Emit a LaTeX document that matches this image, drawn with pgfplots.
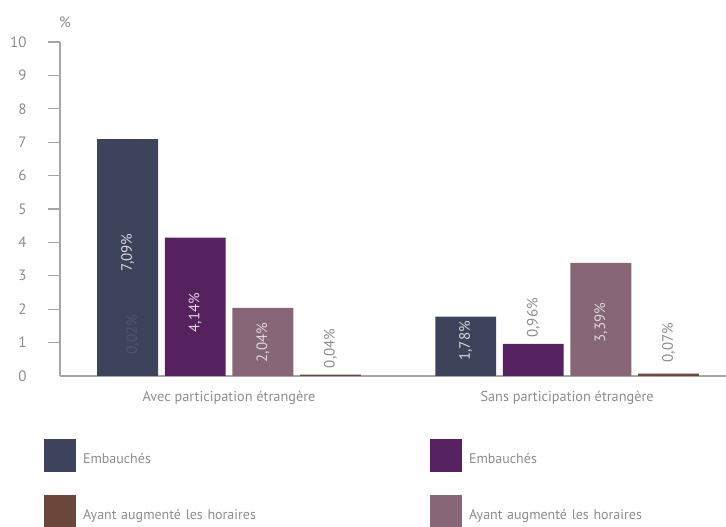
\documentclass[border=0pt]{standalone}
\usepackage{pgfplots}
\pgfplotsset{compat=1.18}
\usepackage{fontspec}
\setmainfont{PT Sans}

\definecolor{navy}{HTML}{3C435A}
\definecolor{plum}{HTML}{55225F}
\definecolor{mauve}{HTML}{866677}
\definecolor{brownish}{HTML}{6B463B}
\definecolor{txtgray}{HTML}{8C8C8C}
\definecolor{axgray}{HTML}{A6A6A6}
\definecolor{lbllight}{HTML}{DADADA}
\definecolor{lbldark}{HTML}{50556A}

\begin{document}
\begin{tikzpicture}
\useasboundingbox (0,0) rectangle (726pt,527pt);
\clip (0,0) rectangle (726pt,527pt);
\begin{axis}[
  at={(60pt,151pt)}, anchor=south west,
  width=666pt, height=334pt, scale only axis, clip=false,
  xmin=-0.5, xmax=1.47, ymin=0, ymax=10,
  axis x line=bottom, axis y line=left,
  axis line style={axgray, line width=1.3pt, -},
  ytick={1,...,10}, extra y ticks={0},
  extra y tick style={major tick style={draw=none}},
  tick align=outside, major tick length=12pt,
  ytick style={axgray, line width=1.3pt},
  xtick={0,1},
  xticklabels={Avec participation étrangère, Sans participation étrangère},
  xtick style={draw=none},
  ticklabel style={txtgray, font=\fontsize{14.3}{16}\selectfont},
  yticklabel style={xshift=-18pt, font=\fontsize{15}{16}\selectfont},
  /pgf/number format/assume math mode=true,
  legend columns=2,
  legend cell align=left,
  legend image code/.code={\fill[#1] (0pt,-13pt) rectangle (32pt,20pt);},
  legend style={at={(axis description cs:-0.024,-0.1886)}, anchor=north west,
    draw=none, fill=none, inner sep=0pt, outer sep=0pt,
    column sep=0pt, row sep=23pt, text=txtgray,
    font=\fontsize{14}{16}\selectfont,
    nodes={inner xsep=7pt, inner ysep=0pt, text width=340pt}},
]
% bars: navy, plum, brown, mauve (order gives the 2x2 legend)
\addplot[ybar, bar width=0.18, bar shift=-0.3, fill=navy, draw=none]
  coordinates {(0,7.09) (1,1.78)};
\addlegendentry{Embauchés}
\addplot[ybar, bar width=0.18, bar shift=-0.1, fill=plum, draw=none]
  coordinates {(0,4.14) (1,0.96)};
\addlegendentry{Embauchés}
\addplot[ybar, bar width=0.18, bar shift=0.3, fill=brownish, draw=none]
  coordinates {(0,0.04) (1,0.07)};
\addlegendentry{Ayant augmenté les horaires}
\addplot[ybar, bar width=0.18, bar shift=0.1, fill=mauve, draw=none]
  coordinates {(0,2.04) (1,3.39)};
\addlegendentry{Ayant augmenté les horaires}

% value labels inside the bars
\addplot[forget plot, draw=none, mark=none, point meta=explicit symbolic,
  nodes near coords,
  nodes near coords style={rotate=90, anchor=center, text=lbllight,
    font=\fontsize{15}{16}\selectfont}]
  coordinates {(-0.3,3.7) [7,09\%] (-0.1,1.9) [4,14\%] (0.1,1.0) [2,04\%]
               (0.7,1.05) [1,78\%] (1.1,1.6) [3,39\%]};
% value labels above the small bars
\addplot[forget plot, draw=none, mark=none, point meta=explicit symbolic,
  nodes near coords,
  nodes near coords style={rotate=90, anchor=center, text=txtgray,
    font=\fontsize{15}{16}\selectfont}]
  coordinates {(0.3,0.83) [0,04\%] (0.9,1.74) [0,96\%] (1.3,1.0) [0,07\%]};
% faint label hidden in the first bar
\addplot[forget plot, draw=none, mark=none, point meta=explicit symbolic,
  nodes near coords,
  nodes near coords style={rotate=90, anchor=center, text=lbldark,
    font=\fontsize{15}{16}\selectfont}]
  coordinates {(-0.285,1.24) [0,02\%]};

\node[txtgray, font=\fontsize{15}{16}\selectfont]
  at (axis description cs:0,1) [yshift=20pt, xshift=5pt] {\%};
\end{axis}
\end{tikzpicture}
\end{document}
